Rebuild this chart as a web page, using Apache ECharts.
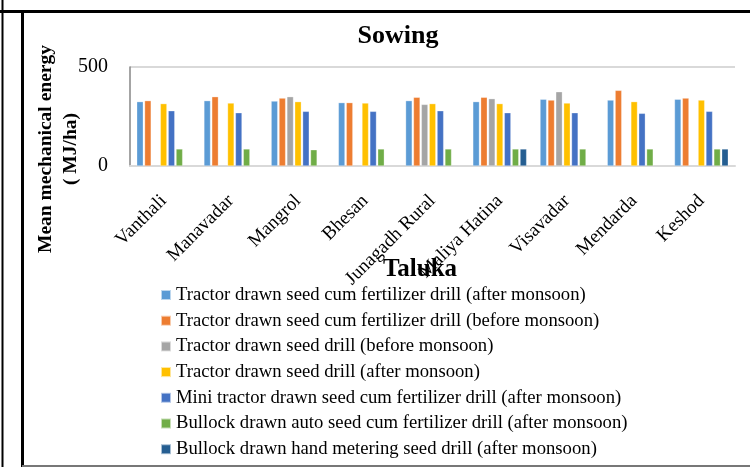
<!DOCTYPE html>
<html>
<head>
<meta charset="utf-8">
<script src="https://cdn.jsdelivr.net/npm/echarts@6/dist/echarts.min.js"></script>
<style>
  html, body { margin: 0; padding: 0; background: #fff; }
  #chart { width: 750px; height: 467px; }
</style>
</head>
<body>
<div id="chart"></div>
<script>
const talukas = ['Vanthali', 'Manavadar', 'Mangrol', 'Bhesan', 'Junagadh Rural', 'Maliya Hatina', 'Visavadar', 'Mendarda', 'Keshod'];

const seriesNames = [
    'Tractor drawn seed cum fertilizer drill (after monsoon)',
    'Tractor drawn seed cum fertilizer drill (before monsoon)',
    'Tractor drawn seed drill (before monsoon)',
    'Tractor drawn seed drill (after monsoon)',
    'Mini tractor drawn seed cum fertilizer drill (after monsoon)',
    'Bullock drawn auto seed cum fertilizer drill (after monsoon)',
    'Bullock drawn hand metering seed drill (after monsoon)'
];

// values (null = no bar)
const tractorSeedFertAfter = [325, 330, 328, 320, 330, 325, 337, 333, 337];
const tractorSeedFertBefore = [330, 350, 343, 320, 347, 347, 333, 382, 343];
const tractorSeedBefore = [null, null, 350, null, 311, 340, 375, null, null];
const tractorSeedAfter = [315, 318, 325, 318, 315, 315, 318, 325, 333];
const miniTractorAfter = [279, 269, 276, 276, 279, 269, 269, 266, 276];
const bullockAutoAfter = [86, 86, 82, 86, 86, 86, 86, 86, 86];
const bullockHandAfter = [null, null, null, null, null, 86, null, null, 86];

const seriesValues = [
    tractorSeedFertAfter, tractorSeedFertBefore, tractorSeedBefore,
    tractorSeedAfter, miniTractorAfter, bullockAutoAfter, bullockHandAfter
];

const colors = ['#5B9BD5', '#ED7D31', '#A5A5A5', '#FFC000', '#4472C4', '#70AD47', '#255E91'];

const yTicks = [0, 500];

const serif = '"Liberation Serif", "Times New Roman", serif';

const chart = echarts.init(document.getElementById('chart'));

const option = {
    animation: false,
    color: colors,
    grid: {
        left: 130,
        right: 15,
        top: 67,
        bottom: 301
    },
    legend: {
        orient: 'vertical',
        left: 160,
        top: 285,
        padding: 0,
        itemWidth: 10,
        itemHeight: 10,
        itemGap: 5.7,
        icon: 'rect',
        textStyle: {
            fontFamily: serif,
            fontSize: 18.7,
            color: '#000',
            lineHeight: 20
        },
        data: seriesNames
    },
    xAxis: {
        type: 'category',
        data: talukas,
        axisTick: { show: false },
        axisLine: { lineStyle: { color: '#d9d9d9', width: 2 } },
        axisLabel: {
            interval: 0,
            rotate: 45,
            margin: 32,
            fontFamily: serif,
            fontSize: 19,
            color: '#000'
        }
    },
    yAxis: {
        type: 'value',
        min: yTicks[0],
        max: yTicks[1],
        interval: 500,
        axisLine: { show: true, lineStyle: { color: '#868686', width: 1.5 } },
        axisTick: { show: false },
        splitLine: { lineStyle: { color: '#d9d9d9', width: 2 } },
        axisLabel: {
            margin: 22,
            fontFamily: serif,
            fontSize: 20,
            color: '#000'
        }
    },
    series: seriesNames.map((name, i) => ({
        name: name,
        type: 'bar',
        data: seriesValues[i],
        barGap: '20%',
        barCategoryGap: '20%',
        itemStyle: {
            borderColor: 'rgba(255,255,255,0.6)',
            borderWidth: 0.5
        }
    })),
    graphic: [
        // frame lines
        { type: 'line', shape: { x1: 2.5, y1: 0, x2: 2.5, y2: 467 }, style: { stroke: '#000', lineWidth: 2 } },
        { type: 'line', shape: { x1: 0, y1: 11.5, x2: 750, y2: 11.5 }, style: { stroke: '#000', lineWidth: 3 } },
        { type: 'line', shape: { x1: 22.5, y1: 11.5, x2: 22.5, y2: 467 }, style: { stroke: '#000', lineWidth: 3 } },
        { type: 'line', shape: { x1: 22, y1: 466, x2: 750, y2: 466 }, style: { stroke: '#777', lineWidth: 2 } },
        // title
        {
            type: 'text', x: 398, y: 36,
            style: { text: 'Sowing', font: 'bold 26px ' + serif, fill: '#000', align: 'center', verticalAlign: 'middle' }
        },
        // y axis name
        {
            type: 'text', x: 58, y: 149, rotation: Math.PI / 2,
            style: {
                text: 'Mean mechanical energy\n( MJ/ha)', font: 'bold 19.5px ' + serif, fill: '#000',
                align: 'center', verticalAlign: 'middle', lineHeight: 25
            }
        },
        // x axis name
        {
            type: 'text', x: 420, y: 270,
            style: { text: 'Taluka', font: 'bold 25px ' + serif, fill: '#000', align: 'center', verticalAlign: 'middle' }
        }
    ]
};

chart.setOption(option);
</script>
</body>
</html>
